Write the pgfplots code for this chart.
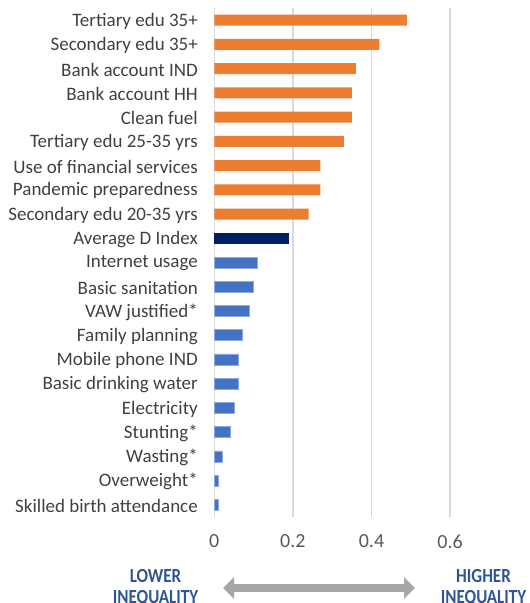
\documentclass[border=0pt]{standalone}
\usepackage{pgfplots}
\pgfplotsset{compat=1.18}
\usetikzlibrary{arrows.meta}
\usepackage{fontspec}
\setmainfont{Carlito}
\newfontfamily\condfont[FakeStretch=0.85]{Carlito}
\definecolor{orangebar}{HTML}{ED7D31}
\definecolor{navybar}{HTML}{002060}
\definecolor{bluebar}{HTML}{4472C4}
\definecolor{blueedge}{HTML}{8FAADC}
\definecolor{gridgray}{HTML}{D9D9D9}
\definecolor{labgray}{HTML}{404040}
\definecolor{tickgray}{HTML}{595959}
\definecolor{annblue}{HTML}{2F5597}
\definecolor{arrowgray}{HTML}{A6A6A6}
\begin{document}
\begin{tikzpicture}
\begin{axis}[
  at={(214.3bp,-517bp)}, anchor=south west,
  scale only axis, width=314.4bp, height=509bp,
  xmin=0, xmax=0.8, ymin=-0.5, ymax=20.5,
  y dir=reverse,
  xtick={0,0.2,0.4,0.6},
  xticklabels={0,0.2,0.4,0.6},
  ytick={0,...,20},
  yticklabels={Tertiary edu 35+,Secondary edu 35+,Bank account IND,Bank account HH,Clean fuel,Tertiary edu 25-35 yrs,Use of financial services,Pandemic preparedness,Secondary edu 20-35 yrs,Average D Index,Internet usage,Basic sanitation,VAW justified*,Family planning,Mobile phone IND,Basic drinking water,Electricity,Stunting*,Wasting*,Overweight*,Skilled birth attendance},
  major tick length=0pt,
  axis line style={draw=none},
  xmajorgrids, ymajorgrids=false,
  grid style={gridgray, line width=1.5bp},
  /pgf/number format/assume math mode=true,
  yticklabel style={font=\fontsize{19bp}{21bp}\selectfont, text=labgray, xshift=-13bp, yshift=-1bp},
  xticklabel style={font=\fontsize{20bp}{22bp}\selectfont, text=tickgray, yshift=-14bp},
  clip=false,
]
\addplot[xbar, bar shift=0pt, bar width=11bp, fill=orangebar, draw=none] coordinates {
  (0.49,0) (0.42,1) (0.36,2) (0.35,3) (0.35,4) (0.33,5) (0.27,6) (0.27,7) (0.24,8)
};
\addplot[xbar, bar shift=0pt, bar width=11bp, fill=navybar, draw=none] coordinates {
  (0.19,9)
};
\addplot[xbar, bar shift=0pt, bar width=11bp, fill=bluebar, draw=blueedge, line width=0.6bp] coordinates {
  (0.11,10) (0.10,11) (0.09,12) (0.07,13) (0.06,14) (0.06,15) (0.05,16) (0.04,17) (0.02,18) (0.01,19) (0.01,20)
};
\end{axis}
\draw[arrowgray, line width=8bp, {Triangle[length=11bp,width=21bp]}-{Triangle[length=11bp,width=21bp]}] (223bp,-588bp) -- (415bp,-588bp);
\node[font=\condfont\bfseries\fontsize{20bp}{21bp}\selectfont, text=annblue, align=center, anchor=north, inner sep=0pt] at (155.5bp,-569bp) {LOWER\\INEQUALITY};
\node[font=\condfont\bfseries\fontsize{20bp}{21bp}\selectfont, text=annblue, align=center, anchor=north, inner sep=0pt] at (483.5bp,-569bp) {HIGHER\\INEQUALITY};
\pgfresetboundingbox
\useasboundingbox (0,0) rectangle (530bp,-603bp);
\end{tikzpicture}
\end{document}
